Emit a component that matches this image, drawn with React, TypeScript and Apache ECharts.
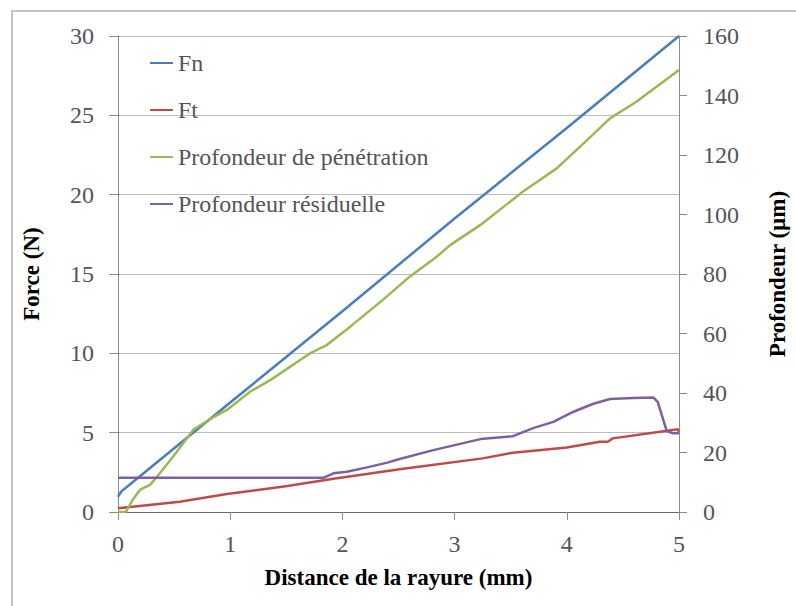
import React, { useEffect, useRef } from "react";
import * as echarts from "echarts";

// Distance (mm) / value pairs
const fnX = [0, 0.03, 0.1, 1, 2, 3, 4, 5];
const fnY = [0.95, 1.3, 1.7, 6.9, 12.65, 18.5, 24.2, 30];

const ftX = [0, 0.13, 0.55, 0.97, 1.51, 1.92, 2.51, 3.25, 3.52, 4.0, 4.295, 4.365, 4.41, 4.99, 5.0];
const ftY = [0.23, 0.33, 0.65, 1.13, 1.64, 2.1, 2.69, 3.38, 3.74, 4.07, 4.43, 4.43, 4.64, 5.21, 5.05];

const penX = [0, 0.07, 0.13, 0.195, 0.285, 0.35, 0.49, 0.67, 0.82, 0.97, 1.18, 1.36, 1.71, 1.86, 2.07, 2.36, 2.6, 2.84, 2.96, 3.23, 3.61, 3.91, 4.15, 4.385, 4.62, 5.0];
const penY = [0, 0, 4, 7.4, 9.1, 11.9, 18.6, 27.6, 31.2, 34.3, 40.5, 44.4, 53.3, 56.1, 62.3, 71.3, 79.1, 85.8, 89.7, 96.5, 107.7, 115.5, 123.9, 132.3, 137.9, 148.6];

const resX = [0, 1.83, 1.92, 2.04, 2.22, 2.4, 2.51, 2.81, 3.23, 3.52, 3.7, 3.88, 4.06, 4.23, 4.385, 4.59, 4.77, 4.81, 4.86, 4.89, 4.94, 5.0];
const resY = [11.5, 11.5, 13.0, 13.5, 15.0, 16.6, 17.8, 20.8, 24.5, 25.5, 28.2, 30.3, 33.7, 36.3, 38.0, 38.3, 38.5, 37.0, 31.0, 27.3, 26.5, 26.5];

const seriesNames = ["Fn", "Ft", "Profondeur de pénétration", "Profondeur résiduelle"];
const seriesColors = ["#4a7ebb", "#be4b48", "#98b954", "#7d60a0"];

const xTitle = "Distance de la rayure (mm)";
const yLeftTitle = "Force (N)";
const yRightTitle = "Profondeur (µm)";

const zip = (xs: number[], ys: number[]) => xs.map((x, i) => [x, ys[i]]);

const FONT = "Liberation Serif";

export default function App() {
  const ref = useRef<HTMLDivElement>(null);
  useEffect(() => {
    if (!ref.current) return;
    const chart = echarts.init(ref.current, undefined, { renderer: "svg" });
    // Black axis line drawn at reduced opacity (looks grey); labels inherit its black colour.
    const axisLine = { show: true, lineStyle: { color: "#000", opacity: 0.45, width: 1 } };
    const labelStyle = { fontFamily: FONT, fontSize: 24 };
    const nameStyle = { color: "#000", fontFamily: FONT, fontSize: 23, fontWeight: "bold" as const };
    const data = [zip(fnX, fnY), zip(ftX, ftY), zip(penX, penY), zip(resX, resY)];
    chart.setOption({
      animation: false,
      backgroundColor: "#fff",
      graphic: [
        {
          type: "rect",
          shape: { x: 12, y: 11, width: 800, height: 620 },
          style: { fill: "none", stroke: "#c4c4c4", lineWidth: 2 },
          silent: true,
        },
      ],
      grid: { left: 118, right: 117, top: 36, bottom: 94, outerBoundsMode: "none", containLabel: false },
      legend: {
        orient: "vertical",
        left: 145,
        top: 46,
        itemWidth: 23,
        itemHeight: 2,
        itemGap: 23,
        icon: "rect",
        data: seriesNames,
        textStyle: { ...labelStyle },
      },
      xAxis: {
        type: "value",
        min: 0,
        max: 5,
        interval: 1,
        name: xTitle,
        nameLocation: "middle",
        nameGap: 54,
        nameTextStyle: nameStyle,
        axisLine,
        axisTick: { show: true, length: 8, lineStyle: { color: "#8c8c8c", opacity: 1 } },
        axisLabel: { ...labelStyle, margin: 20 },
        splitLine: { show: false },
      },
      yAxis: [
        {
          type: "value",
          min: 0,
          max: 30,
          interval: 5,
          name: yLeftTitle,
          nameLocation: "middle",
          nameGap: 75,
          nameRotate: 90,
          nameTextStyle: nameStyle,
          axisLine,
          axisTick: { show: true, length: 9, lineStyle: { color: "#8c8c8c", opacity: 1 } },
          axisLabel: { ...labelStyle, margin: 24 },
          splitLine: { show: true, lineStyle: { color: "#bdbdbd", width: 1 } },
        },
        {
          type: "value",
          position: "right",
          min: 0,
          max: 160,
          interval: 20,
          name: yRightTitle,
          nameLocation: "middle",
          nameGap: 87,
          nameRotate: 90,
          nameTextStyle: nameStyle,
          axisLine,
          axisTick: { show: true, length: 8, lineStyle: { color: "#8c8c8c", opacity: 1 } },
          axisLabel: { ...labelStyle, margin: 24 },
          splitLine: { show: false },
        },
      ],
      series: seriesNames.map((name, i) => ({
        name,
        type: "line",
        yAxisIndex: i < 2 ? 0 : 1,
        data: data[i],
        showSymbol: false,
        symbol: "none",
        smooth: false,
        lineStyle: { color: seriesColors[i], width: 2.5 },
        itemStyle: { color: seriesColors[i] },
      })),
    });
    return () => chart.dispose();
  }, []);
  return (
    <div
      ref={ref}
      style={{ position: "absolute", left: 0, top: 0, width: 796, height: 606 }}
    />
  );
}
